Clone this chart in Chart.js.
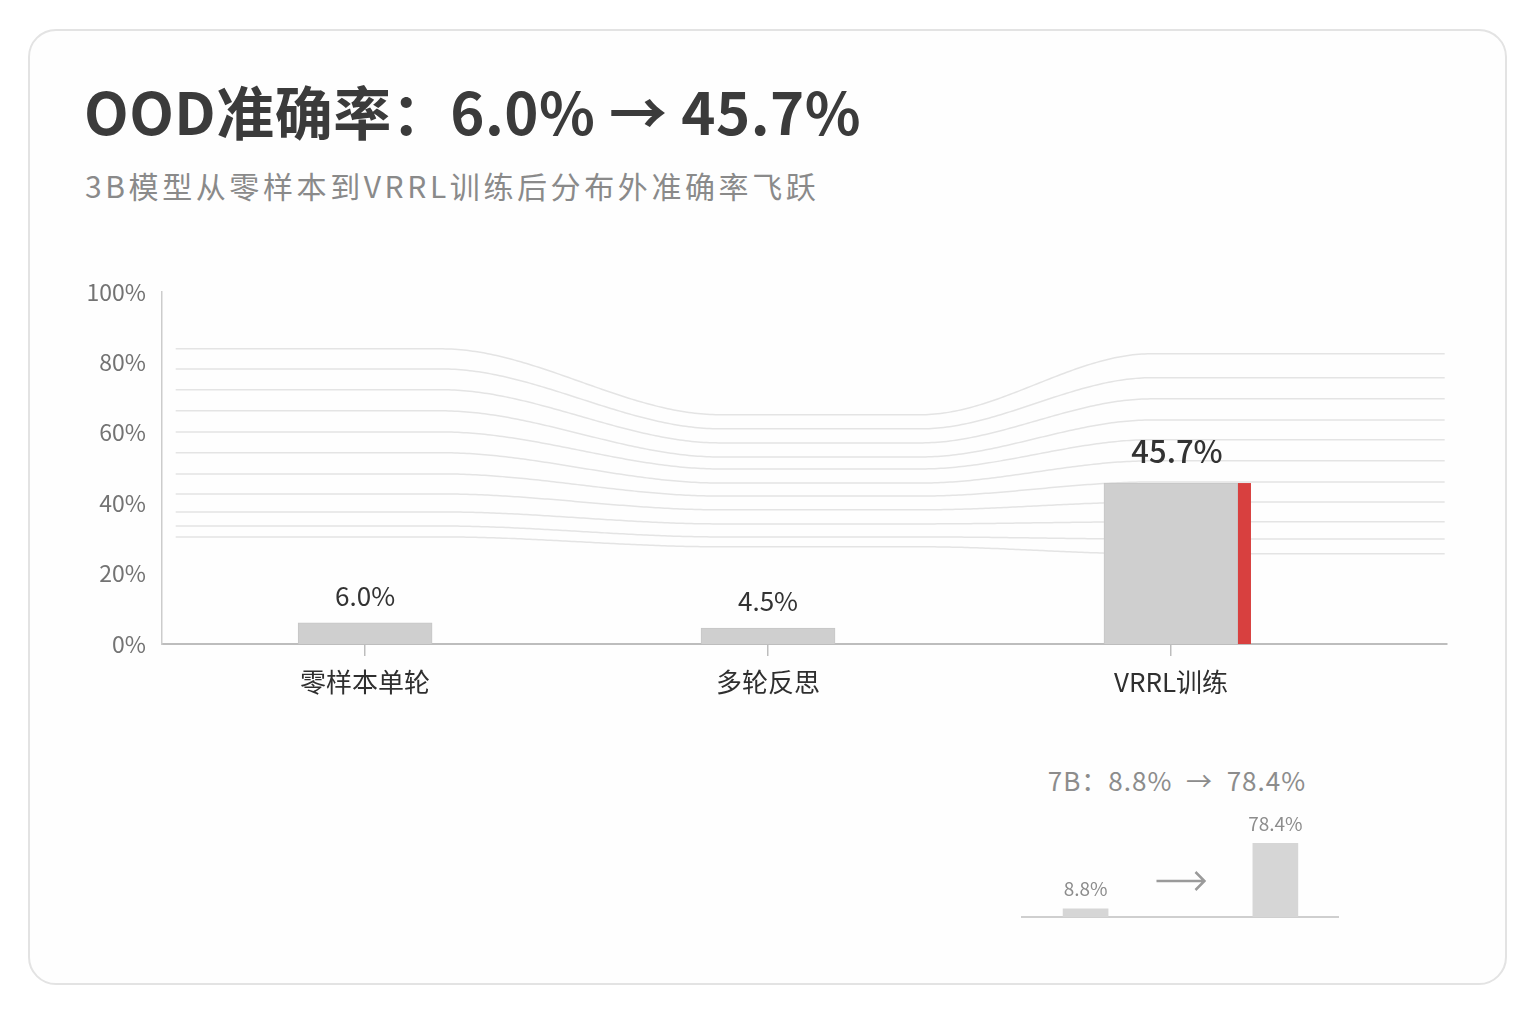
<!DOCTYPE html>
<html lang="zh">

<head>
  <meta charset="UTF-8">
  <title>OOD准确率</title>
  <script src="https://cdn.jsdelivr.net/npm/chart.js"></script>
  <style>
    body {
      margin: 0;
      width: 1536px;
      height: 1024px;
      background: #ffffff;
      font-family: "Noto Sans CJK SC", "Noto Sans", sans-serif;
      position: relative;
      overflow: hidden;
    }

    .card {
      position: absolute;
      left: 28px;
      top: 29px;
      width: 1479px;
      height: 956px;
      box-sizing: border-box;
      border: 2px solid #e3e3e3;
      border-radius: 28px;
      background: #fefefe;
    }

    .title {
      position: absolute;
      left: 84px;
      top: 81px;
      font-size: 58px;
      line-height: 58px;
      font-weight: 700;
      letter-spacing: 0.5px;
      color: #3b3b3b;
      white-space: pre;
    }

    .subtitle {
      position: absolute;
      left: 85px;
      top: 170px;
      font-size: 30px;
      line-height: 30px;
      letter-spacing: 3.6px;
      color: #8a8a8a;
      white-space: pre;
    }

    .mini-title {
      position: absolute;
      left: 1000px;
      width: 354px;
      top: 766px;
      text-align: center;
      font-size: 26px;
      line-height: 28px;
      letter-spacing: 1px;
      color: #8c8c8c;
      white-space: pre;
    }

    #mainChart {
      position: absolute;
      left: 40px;
      top: 262px;
    }

    #miniChart {
      position: absolute;
      left: 1000px;
      top: 807px;
    }
  </style>
</head>

<body>
  <div class="card"></div>
  <div class="title">OOD准确率：6.0% → 45.7%</div>
  <div class="subtitle">3B模型从零样本到VRRL训练后分布外准确率飞跃</div>
  <canvas id="mainChart" width="1430" height="458"></canvas>
  <div class="mini-title">7B：8.8%  →  78.4%</div>
  <canvas id="miniChart" width="360" height="130"></canvas>

  <script>
    const categories = ['零样本单轮', '多轮反思', 'VRRL训练'];
    const accuracy3B = [6.0, 4.5, 45.7];
    const yTicks = [0, 20, 40, 60, 80, 100];
    const highlightIndex = 2;

    const steps7B = ['零样本单轮', 'VRRL训练'];
    const accuracy7B = [8.8, 78.4];

    // background waves (decoration only), in y-axis units: left / middle / right level
    const waveLeft = [83.8, 78.1, 72.2, 66.2, 60.2, 54.3, 48.3, 42.6, 37.5, 33.5, 30.4];
    const waveMid = [65.1, 61.1, 57.1, 53.1, 49.7, 45.7, 42.0, 38.1, 34.1, 30.4, 27.6];
    const waveRight = [82.4, 75.6, 69.6, 63.6, 58.0, 52.0, 46.0, 40.3, 34.7, 29.8, 25.6];

    const FONT = '"Noto Sans CJK SC", "Noto Sans", sans-serif';

    function smooth(t) {
      t = Math.max(0, Math.min(1, t));
      return t * t * (3 - 2 * t);
    }

    const wavePlugin = {
      id: 'waves',
      beforeDatasetsDraw(chart) {
        const { ctx, chartArea, scales: { x, y } } = chart;
        ctx.save();
        ctx.beginPath();
        ctx.rect(chartArea.left, chartArea.top, chartArea.width, chartArea.height);
        ctx.clip();
        ctx.strokeStyle = '#e4e4e4';
        ctx.lineWidth = 1.5;
        const start = x.getPixelForValue(-0.47);
        for (let i = 0; i < waveLeft.length; i++) {
          ctx.beginPath();
          for (let px = start; px <= chartArea.right; px += 3) {
            const v = x.getValueForPixel(px);
            const t1 = smooth((v - 0.19) / 0.69);
            const t2 = smooth((v - 1.38) / 0.57);
            const val = waveLeft[i] + (waveMid[i] - waveLeft[i]) * t1 + (waveRight[i] - waveMid[i]) * t2;
            const py = y.getPixelForValue(val);
            if (px === start) ctx.moveTo(px, py); else ctx.lineTo(px, py);
          }
          ctx.stroke();
        }
        ctx.restore();
      }
    };

    const barExtrasPlugin = {
      id: 'barExtras',
      afterDatasetsDraw(chart) {
        const { ctx } = chart;
        const meta = chart.getDatasetMeta(0);
        ctx.save();
        meta.data.forEach((bar, i) => {
          const { x, y, base, width } = bar.getProps(['x', 'y', 'base', 'width'], true);
          if (i === highlightIndex) {
            ctx.fillStyle = '#d8403f';
            ctx.fillRect(x + width / 2, y, 13, base - y);
          }
          const big = i === highlightIndex;
          ctx.font = (big ? '500 31px ' : '400 26px ') + FONT;
          ctx.fillStyle = '#333333';
          ctx.textAlign = 'center';
          ctx.textBaseline = 'middle';
          ctx.fillText(accuracy3B[i].toFixed(1) + '%', x + (big ? 6 : 0), y - (big ? 32 : 27));
        });
        ctx.restore();
      }
    };

    new Chart(document.getElementById('mainChart'), {
      type: 'bar',
      data: {
        datasets: [{
          label: '3B OOD准确率',
          data: accuracy3B.map((v, i) => ({ x: i, y: v })),
          backgroundColor: '#cfcfcf',
          borderColor: '#c6c6c6',
          borderWidth: 1,
          barThickness: 134
        }]
      },
      options: {
        responsive: false,
        animation: false,
        layout: { padding: { top: 14, right: 23, left: 0, bottom: 0 } },
        plugins: {
          legend: { display: false },
          tooltip: { enabled: false }
        },
        scales: {
          x: {
            type: 'linear',
            offset: false,
            min: -0.504,
            max: 2.685,
            afterBuildTicks: (axis) => { axis.ticks = categories.map((c, i) => ({ value: i })); },
            afterFit: (axis) => { axis.height = 76; },
            grid: { offset: false, drawOnChartArea: false, drawTicks: true, tickLength: 12, color: '#bdbdbd', lineWidth: 1.5 },
            border: { display: true, color: '#bdbdbd', width: 2 },
            ticks: {
              autoSkip: false,
              maxRotation: 0,
              padding: 11,
              color: '#2f2f2f',
              font: { family: FONT, size: 26 },
              callback: (v) => categories[v]
            }
          },
          y: {
            min: 0,
            max: 100,
            afterBuildTicks: (axis) => { axis.ticks = yTicks.map(v => ({ value: v })); },
            afterFit: (axis) => { axis.width = 122; },
            grid: { display: false, drawTicks: false },
            border: { display: true, color: '#cccccc', width: 1.5 },
            ticks: {
              padding: 16,
              color: '#737373',
              font: { family: FONT, size: 23 },
              callback: (v) => v + '%'
            }
          }
        }
      },
      plugins: [wavePlugin, barExtrasPlugin]
    });

    const miniExtrasPlugin = {
      id: 'miniExtras',
      afterDatasetsDraw(chart) {
        const { ctx, chartArea, scales: { x } } = chart;
        const meta = chart.getDatasetMeta(0);
        ctx.save();
        ctx.font = '400 19px ' + FONT;
        ctx.fillStyle = '#8c8c8c';
        ctx.textAlign = 'center';
        ctx.textBaseline = 'middle';
        meta.data.forEach((bar, i) => {
          const { x: bx, y } = bar.getProps(['x', 'y'], true);
          ctx.fillText(accuracy7B[i].toFixed(1) + '%', bx, y - 20);
        });
        // arrow between the two steps
        const ax = x.getPixelForValue(1);
        const ay = chartArea.bottom - 36;
        ctx.strokeStyle = '#9a9a9a';
        ctx.lineWidth = 2.5;
        ctx.beginPath();
        ctx.moveTo(ax - 24, ay);
        ctx.lineTo(ax + 24, ay);
        ctx.moveTo(ax + 15, ay - 9);
        ctx.lineTo(ax + 24, ay);
        ctx.lineTo(ax + 15, ay + 9);
        ctx.stroke();
        ctx.restore();
      }
    };

    new Chart(document.getElementById('miniChart'), {
      type: 'bar',
      data: {
        datasets: [{
          label: '7B OOD准确率',
          data: accuracy7B.map((v, i) => ({ x: i * 2, y: v })),
          backgroundColor: '#d6d6d6',
          barThickness: 45
        }]
      },
      options: {
        responsive: false,
        animation: false,
        layout: { padding: { top: 16, right: 22, left: 22, bottom: 12 } },
        plugins: {
          legend: { display: false },
          tooltip: { enabled: false }
        },
        scales: {
          x: {
            type: 'linear',
            offset: false,
            min: -0.67,
            max: 2.66,
            grid: { display: false, offset: false },
            border: { display: true, color: '#cfcfcf', width: 2 },
            ticks: { display: false }
          },
          y: {
            display: false,
            min: 0,
            max: 100
          }
        }
      },
      plugins: [miniExtrasPlugin]
    });
  </script>
</body>

</html>
